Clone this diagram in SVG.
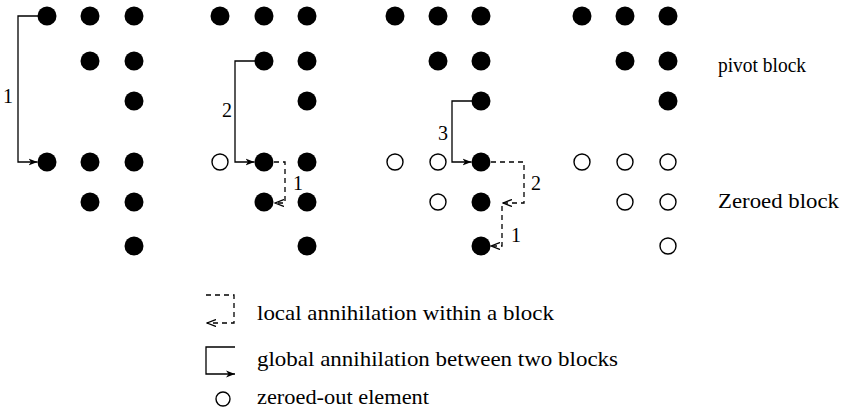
<svg xmlns="http://www.w3.org/2000/svg" width="846" height="415" viewBox="0 0 846 415">
<defs>
<style>
.f{fill:#000}
.o{fill:#fff;stroke:#000;stroke-width:1.4}
.g{fill:none;stroke:#000;stroke-width:1.3}
.l{fill:none;stroke:#000;stroke-width:1.3;stroke-dasharray:5 4}
.t{font-family:"Liberation Serif","Times New Roman",serif;font-size:21px;fill:#000}
.n{font-family:"Liberation Serif","Times New Roman",serif;font-size:20px;fill:#000}
</style>
<marker id="ah" markerWidth="10" markerHeight="8" refX="9" refY="4" orient="auto" markerUnits="userSpaceOnUse">
<path d="M0,0.5 L9,4 L0,7.5 L2.5,4 Z" fill="#000"/>
</marker>
<marker id="ahl" markerWidth="10" markerHeight="8" refX="9" refY="4" orient="auto" markerUnits="userSpaceOnUse">
<path d="M0,0.5 L9,4 L0,7.5" fill="none" stroke="#000" stroke-width="1.3"/>
</marker>
</defs>
<rect width="846" height="415" fill="#fff"/>

<g id="panel1">
<circle class="f" cx="47" cy="16" r="9.5"/><circle class="f" cx="90" cy="16" r="9.5"/><circle class="f" cx="134" cy="16" r="9.5"/>
<circle class="f" cx="90" cy="61" r="9.5"/><circle class="f" cx="134" cy="61" r="9.5"/>
<circle class="f" cx="134" cy="101" r="9.5"/>
<circle class="f" cx="47" cy="162" r="9.5"/><circle class="f" cx="90" cy="162" r="9.5"/><circle class="f" cx="134" cy="162" r="9.5"/>
<circle class="f" cx="90" cy="202" r="9.5"/><circle class="f" cx="134" cy="202" r="9.5"/>
<circle class="f" cx="134" cy="246" r="9.5"/>
</g>

<g id="panel2">
<circle class="f" cx="220" cy="16" r="9.5"/><circle class="f" cx="264" cy="16" r="9.5"/><circle class="f" cx="307" cy="16" r="9.5"/>
<circle class="f" cx="264" cy="61" r="9.5"/><circle class="f" cx="307" cy="61" r="9.5"/>
<circle class="f" cx="307" cy="101" r="9.5"/>
<circle class="o" cx="220" cy="162" r="8"/><circle class="f" cx="264" cy="162" r="9.5"/><circle class="f" cx="307" cy="162" r="9.5"/>
<circle class="f" cx="264" cy="202" r="9.5"/><circle class="f" cx="307" cy="202" r="9.5"/>
<circle class="f" cx="307" cy="246" r="9.5"/>
</g>

<g id="panel3">
<circle class="f" cx="395" cy="16" r="9.5"/><circle class="f" cx="438" cy="16" r="9.5"/><circle class="f" cx="481" cy="16" r="9.5"/>
<circle class="f" cx="438" cy="61" r="9.5"/><circle class="f" cx="481" cy="61" r="9.5"/>
<circle class="f" cx="481" cy="101" r="9.5"/>
<circle class="o" cx="395" cy="162" r="8"/><circle class="o" cx="438" cy="162" r="8"/><circle class="f" cx="481" cy="162" r="9.5"/>
<circle class="o" cx="438" cy="202" r="8"/><circle class="f" cx="481" cy="202" r="9.5"/>
<circle class="f" cx="481" cy="246" r="9.5"/>
</g>

<g id="panel4">
<circle class="f" cx="582" cy="16" r="9.5"/><circle class="f" cx="625" cy="16" r="9.5"/><circle class="f" cx="668" cy="16" r="9.5"/>
<circle class="f" cx="625" cy="61" r="9.5"/><circle class="f" cx="668" cy="61" r="9.5"/>
<circle class="f" cx="668" cy="101" r="9.5"/>
<circle class="o" cx="582" cy="162" r="8"/><circle class="o" cx="625" cy="162" r="8"/><circle class="o" cx="668" cy="162" r="8"/>
<circle class="o" cx="625" cy="202" r="8"/><circle class="o" cx="668" cy="202" r="8"/>
<circle class="o" cx="668" cy="246" r="8"/>
</g>

<g id="connectors">
<path class="g" d="M38,16 H18 V162 H37.5" marker-end="url(#ah)"/>
<path class="g" d="M255,61 H235 V162 H254.5" marker-end="url(#ah)"/>
<path class="l" d="M274,162 H285 V203 H275" marker-end="url(#ahl)"/>
<path class="g" d="M472,101 H452 V162 H471.5" marker-end="url(#ah)"/>
<path class="l" d="M491,162 H524 V203 H503" marker-end="url(#ahl)"/>
<path class="l" d="M502,206 V246 H491" marker-end="url(#ahl)"/>
</g>

<g id="step-labels">
<text class="n" x="8" y="103" text-anchor="middle">1</text>
<text class="n" x="227" y="117" text-anchor="middle">2</text>
<text class="n" x="298" y="190" text-anchor="middle">1</text>
<text class="n" x="443" y="140" text-anchor="middle">3</text>
<text class="n" x="536" y="190" text-anchor="middle">2</text>
<text class="n" x="516" y="242" text-anchor="middle">1</text>
</g>

<g id="block-labels">
<text class="t" x="718" y="72" textLength="88" lengthAdjust="spacingAndGlyphs">pivot block</text>
<text class="t" x="718" y="208" textLength="121" lengthAdjust="spacingAndGlyphs">Zeroed block</text>
</g>

<g id="legend">
<path class="l" d="M206,295 H234 V323 H207" marker-end="url(#ahl)"/>
<path class="g" d="M235,347 H206 V374 H235" marker-end="url(#ah)"/>
<circle class="o" cx="223" cy="399" r="7"/>
<text class="t" x="257" y="320" textLength="297" lengthAdjust="spacingAndGlyphs">local annihilation within a block</text>
<text class="t" x="257" y="366" textLength="361" lengthAdjust="spacingAndGlyphs">global annihilation between two blocks</text>
<text class="t" x="257" y="404" textLength="172" lengthAdjust="spacingAndGlyphs">zeroed-out element</text>
</g>
</svg>
